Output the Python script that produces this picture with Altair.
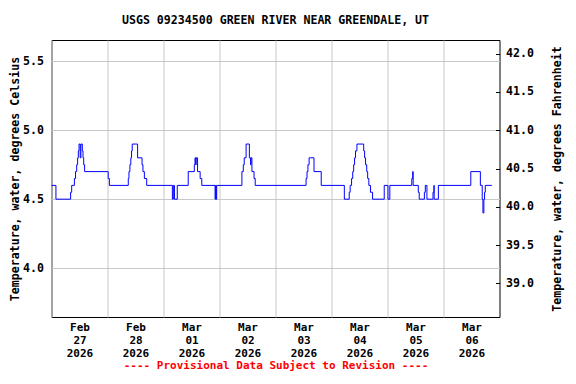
import json
import altair as alt
import pandas as pd

# ---- data (hours since 2026-02-27 00:00, water temperature in deg C) ----
HOURS = [
    0.0, 1.9, 8.2, 8.65, 9.8, 10.3, 10.8, 11.2, 11.5, 11.8, 12.3, 12.6, 13.2, 13.5, 13.8, 14.2,
    24.3, 24.8, 32.9, 33.2, 33.6, 34.0, 34.3, 34.6, 36.9, 38.8, 39.2, 39.8, 40.8,
    51.8, 52.2, 52.7, 53.9, 58.6, 61.2, 61.5, 61.8, 62.0, 62.6, 63.7, 64.4,
    70.1, 70.4, 70.5, 70.8, 81.6, 82.2, 82.6, 83.4, 84.8, 85.3, 85.5, 85.9, 86.8, 87.3,
    109.1, 109.5, 109.9, 110.4, 110.9, 112.5, 115.6,
    125.5, 127.6, 128.0, 128.6, 129.1, 129.5, 129.9, 130.3, 130.9, 133.8, 134.2, 134.6,
    135.1, 135.5, 136.0, 136.7, 137.6, 142.6, 144.2, 145.0,
    154.4, 154.8, 155.0, 157.2, 157.6, 159.8, 160.2, 160.9, 163.5, 163.9, 164.0, 165.8,
    179.7, 183.8, 184.6, 184.9, 185.3, 185.6, 185.9, 188.7,
]
TEMP_C = [
    4.6, 4.5, 4.55, 4.6, 4.65, 4.7, 4.75, 4.8, 4.85, 4.9, 4.8, 4.9, 4.85, 4.8, 4.75, 4.7,
    4.65, 4.6, 4.65, 4.7, 4.75, 4.8, 4.85, 4.9, 4.8, 4.75, 4.7, 4.65, 4.6,
    4.5, 4.6, 4.5, 4.6, 4.7, 4.75, 4.8, 4.75, 4.8, 4.7, 4.65, 4.6,
    4.5, 4.6, 4.5, 4.6, 4.7, 4.75, 4.8, 4.9, 4.8, 4.75, 4.8, 4.7, 4.65, 4.6,
    4.65, 4.7, 4.75, 4.8, 4.8, 4.7, 4.6,
    4.5, 4.55, 4.6, 4.65, 4.7, 4.75, 4.8, 4.85, 4.9, 4.85, 4.8, 4.75,
    4.7, 4.65, 4.6, 4.55, 4.5, 4.6, 4.5, 4.6,
    4.65, 4.7, 4.6, 4.55, 4.5, 4.55, 4.6, 4.5, 4.55, 4.6, 4.5, 4.6,
    4.7, 4.6, 4.5, 4.4, 4.5, 4.55, 4.6, 4.6,
]

DAY_HOURS = [0, 24, 48, 72, 96, 120, 144, 168]
DAY_MONTH = ["Feb", "Feb", "Mar", "Mar", "Mar", "Mar", "Mar", "Mar"]
DAY_NUM = ["27", "28", "01", "02", "03", "04", "05", "06"]
DAY_YEAR = ["2026"] * 8

C_TICKS = [4.0, 4.5, 5.0, 5.5]
F_TICKS = [39.0, 39.5, 40.0, 40.5, 41.0, 41.5, 42.0]
C_DOMAIN = [3.645, 5.655]

TITLE = "USGS 09234500 GREEN RIVER NEAR GREENDALE, UT"
FOOTER = "---- Provisional Data Subject to Revision ----"

df = pd.DataFrame({"hours": HOURS, "temp_c": TEMP_C})
df["temp_f"] = df["temp_c"] * 1.8 + 32

FONT = "DejaVu Sans Mono"
FS = 11.6

label_lists = [[m, d, y] for m, d, y in zip(DAY_MONTH, DAY_NUM, DAY_YEAR)]
label_expr = json.dumps(label_lists).replace('"', "'") + "[floor(datum.value / 24)]"

x_enc = alt.X(
    "hours:Q",
    scale=alt.Scale(domain=[0, 192], nice=False, zero=False),
    axis=alt.Axis(
        values=DAY_HOURS,
        labelExpr=label_expr,
        labelOffset=28,
        labelPadding=4,
        labelBaseline="top",
        labelFontSize=11,
        labelLineHeight=13,
        labelFlush=False,
        labelOverlap=False,
        ticks=False,
        domain=False,
        grid=True,
        title=FOOTER,
        titleColor="#ff0000",
        titleFontSize=11,
        titlePadding=1,
    ),
)

line = alt.Chart(df).mark_line(
    interpolate="step-after", color="#0000ff", strokeWidth=1
).encode(
    x=x_enc,
    y=alt.Y(
        "temp_c:Q",
        scale=alt.Scale(domain=C_DOMAIN, nice=False, zero=False),
        axis=alt.Axis(
            orient="left",
            values=C_TICKS,
            format=".1f",
            ticks=False,
            domain=False,
            grid=True,
            labelPadding=8,
            labelFlush=False,
            title="Temperature, water, degrees Celsius",
            titlePadding=2,
        ),
    ),
)

ghost = alt.Chart(df).mark_line(opacity=0).encode(
    x=x_enc,
    y=alt.Y(
        "temp_f:Q",
        scale=alt.Scale(domain=[C_DOMAIN[0] * 1.8 + 32, C_DOMAIN[1] * 1.8 + 32], nice=False, zero=False),
        axis=alt.Axis(
            orient="right",
            values=F_TICKS,
            format=".1f",
            offset=-4,
            ticks=True,
            tickSize=4,
            tickColor="#000000",
            domain=False,
            grid=False,
            labelPadding=6,
            labelFlush=False,
            title="Temperature, water, degrees Fahrenheit",
            titleAngle=270,
            titlePadding=29,
        ),
    ),
)

chart = (
    alt.layer(line, ghost)
    .resolve_scale(y="independent")
    .properties(
        width=448,
        height=277,
        autosize=alt.AutoSizeParams(type="none"),
        padding={"left": 43.5, "top": 32, "right": 68.5, "bottom": 59},
        title=alt.TitleParams(
            TITLE, font=FONT, fontSize=FS, fontWeight="bold", color="#000000",
            anchor="middle", offset=13,
        ),
    )
    .configure_view(stroke="#000000", strokeWidth=1)
    .configure_axis(
        labelFont=FONT, labelFontSize=FS, labelFontWeight="bold", labelColor="#000000",
        titleFont=FONT, titleFontSize=FS, titleFontWeight="bold",
        gridColor="#c8c8c8", gridWidth=1, gridOpacity=1,
    )
)

chart.save("out.html", embed_options={"renderer": "svg", "actions": False})
